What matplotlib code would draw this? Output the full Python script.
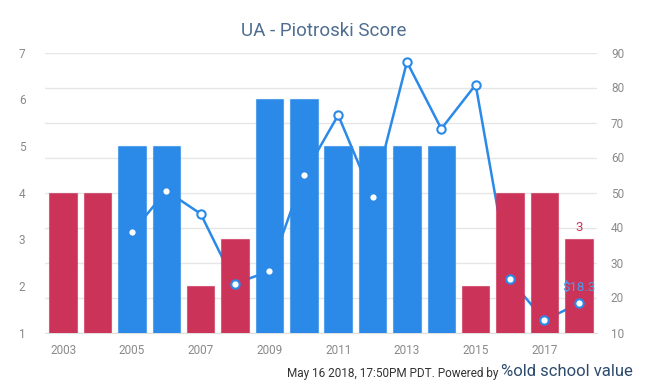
import numpy as np
import matplotlib
matplotlib.use('Agg')
import matplotlib.pyplot as plt

plt.rcParams['font.family'] = ['Roboto', 'DejaVu Sans']

years = list(range(2003, 2019))
score = [4, 4, 5, 5, 2, 3, 6, 6, 5, 5, 5, 5, 2, 4, 4, 3]
price = [np.nan, np.nan, 38.6, 50.5, 43.9, 24.0, 27.5, 55.0, 72.1, 48.7,
         87.3, 68.2, 80.8, 25.2, 13.5, 18.3]

RED = '#cc3359'
BLUE = '#2b8ae8'
GREY = '#8a8a8a'

x = np.arange(len(years))
bar_cols = [BLUE if s >= 5 else RED for s in score]

fig = plt.figure(figsize=(6.48, 3.9), dpi=100)
rect = [45 / 648, 1 - 332.5 / 390, 552 / 648, 280 / 390]
ax = fig.add_axes(rect)
ax2 = ax.twinx()   # right axis, grid and price line (behind bars)
ax3 = ax.twinx()   # markers on top of bars

ax2.set_zorder(0)
ax.set_zorder(1)
ax3.set_zorder(2)
ax.patch.set_visible(False)
ax3.patch.set_visible(False)
ax2.patch.set_facecolor('white')

# bars - piotroski score
ax.bar(x, [s - 1 for s in score], bottom=1, width=0.8, color=bar_cols,
       edgecolor=[c + '99' for c in bar_cols], linewidth=0.8)
ax.set_ylim(1, 7)
ax.set_xlim(-0.53, 15.53)
ax.set_yticks(range(1, 8))

# price line
ax2.plot(x, price, color=BLUE, lw=1.8)
ax2.set_ylim(10, 90)
ax2.set_yticks(range(10, 100, 10))
ax2.grid(axis='y', color='#e6e6e6', lw=1)
ax2.set_axisbelow(True)

ax3.plot(x, price, 'o', color=BLUE, ms=6, mfc='white', mew=1.5)
ax3.set_ylim(10, 90)
ax3.set_yticks([])

for a in (ax, ax2, ax3):
    for s in a.spines.values():
        s.set_visible(False)
    a.tick_params(length=0, colors=GREY, labelsize=8.5)
ax2.spines['bottom'].set_visible(True)
ax2.spines['bottom'].set_color('#e0e0e0')
ax.tick_params(axis='y', pad=14)
ax2.tick_params(axis='y', pad=10)

ax.set_xticks(x[::2])
ax.set_xticklabels([str(y) for y in years[::2]])
ax.tick_params(axis='x', pad=8)

# data labels
ax.text(x[-1], score[-1] + 0.12, str(score[-1]), color=RED, ha='center',
        va='bottom', fontsize=9.5)
ax3.annotate('$%.1f' % price[-1], (x[-1], price[-1]), xytext=(0, 7),
             textcoords='offset points', color='#4a9cec', ha='center',
             va='bottom', fontsize=9.5)

fig.text(0.5, 1 - 31 / 390, 'UA - Piotroski Score', ha='center', va='center',
         fontsize=13.5, color='#4f6d90')

fig.text(498 / 648, 1 - 373 / 390, 'May 16 2018, 17:50PM PDT. Powered by',
         ha='right', va='center', fontsize=8.5, color='#333333')
fig.text(501 / 648, 1 - 371 / 390, '%old school value', ha='left',
         va='center', fontsize=12, color='#2c4a6e')

fig.savefig('out.png', dpi=100)
